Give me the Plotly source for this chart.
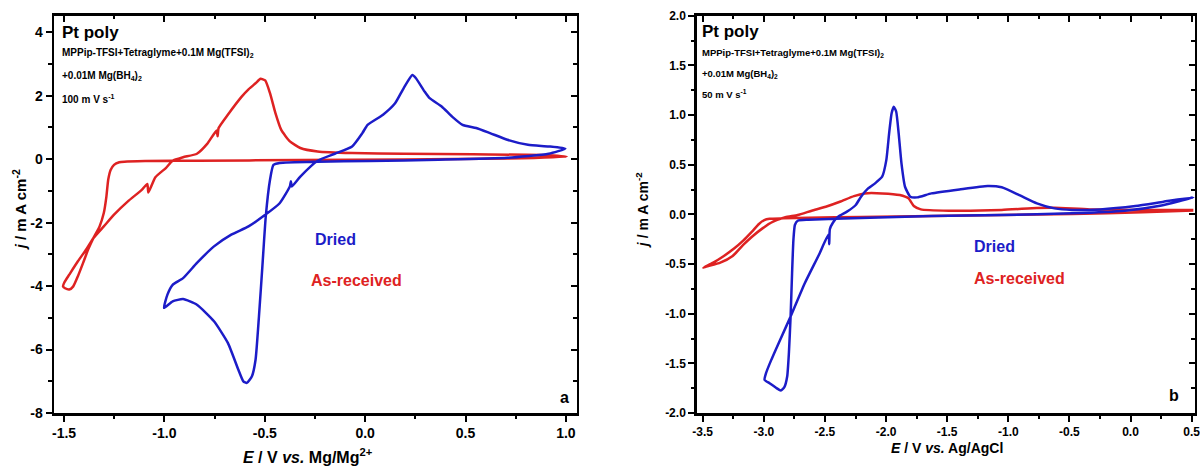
import plotly.graph_objects as go

# ---------------- Panel a (E vs Mg/Mg2+) ----------------
a_dried_E = [0.997, 0.914, 0.708, 0.364, 0.021, -0.237, -0.426, -0.457, -0.474, -0.495, -0.512, -0.529,
             -0.546, -0.564, -0.589, -0.607, -0.632, -0.684, -0.753, -0.838, -0.907, -0.959, -1.002,
             -0.985, -0.959, -0.907, -0.838, -0.753, -0.667, -0.581, -0.503, -0.426, -0.375, -0.370,
             -0.365, -0.323, -0.237, -0.151, -0.065, -0.014, 0.012, 0.089, 0.149, 0.192, 0.235, 0.253,
             0.296, 0.321, 0.381, 0.433, 0.485, 0.553, 0.622, 0.708, 0.811, 0.914, 0.997]
a_dried_j = [0.33, 0.17, 0.04, -0.02, -0.06, -0.08, -0.12, -0.18, -0.65, -1.80, -3.38, -4.95,
             -6.32, -6.84, -7.05, -7.00, -6.63, -5.79, -5.11, -4.59, -4.41, -4.48, -4.69,
             -4.27, -3.96, -3.75, -3.27, -2.75, -2.38, -2.12, -1.78, -1.39, -0.86, -0.70,
             -0.86, -0.55, -0.05, 0.17, 0.40, 0.82, 1.08, 1.40, 1.76, 2.24, 2.65, 2.55,
             2.13, 1.92, 1.66, 1.34, 1.08, 0.98, 0.82, 0.61, 0.45, 0.40, 0.33]

a_asrec_E = [1.003, 0.708, 0.192, -0.323, -0.838, -1.096, -1.199, -1.225, -1.251, -1.268, -1.280, -1.289,
             -1.302, -1.323, -1.354, -1.380, -1.405, -1.431, -1.454, -1.474, -1.495, -1.505,
             -1.498, -1.474, -1.431, -1.388, -1.354, -1.302, -1.251, -1.182, -1.113, -1.085, -1.080,
             -1.045, -0.993, -0.959, -0.907, -0.838, -0.787, -0.740, -0.735, -0.730, -0.684, -0.615,
             -0.581, -0.546, -0.521, -0.498, -0.474, -0.447, -0.418, -0.375, -0.323, -0.237, -0.065,
             0.192, 0.536, 0.880, 1.003]
a_asrec_j = [0.08, 0.02, -0.01, -0.03, -0.05, -0.06, -0.08, -0.10, -0.18, -0.34, -0.65, -1.18,
             -1.70, -2.12, -2.49, -2.85, -3.27, -3.69, -4.01, -4.11, -4.07, -4.01,
             -3.88, -3.64, -3.22, -2.83, -2.49, -2.12, -1.75, -1.33, -0.97, -0.78, -1.05,
             -0.57, -0.28, -0.05, 0.06, 0.17, 0.48, 0.90, 0.72, 0.98, 1.40, 1.97,
             2.20, 2.39, 2.53, 2.48, 2.08, 1.45, 0.92, 0.56, 0.35, 0.24, 0.19,
             0.17, 0.15, 0.13, 0.08]

# ---------------- Panel b (E vs Ag/AgCl) ----------------
b_dried_E = [0.514, 0.241, -0.047, -0.478, -1.054, -1.629, -2.205, -2.637, -2.723, -2.746, -2.758, -2.769,
             -2.781, -2.795, -2.809, -2.832, -2.861, -2.896, -2.953, -2.994,
             -2.982, -2.939, -2.867, -2.781, -2.665, -2.550, -2.470, -2.465, -2.460, -2.435, -2.392,
             -2.320, -2.248, -2.205, -2.147, -2.090, -2.032, -1.998, -1.975, -1.955, -1.937, -1.917,
             -1.897, -1.874, -1.845, -1.802, -1.745, -1.629, -1.399, -1.169, -1.054, -0.910, -0.766,
             -0.622, -0.478, -0.248, 0.040, 0.270, 0.514]
b_dried_j = [0.171, 0.087, 0.037, 0.010, -0.007, -0.017, -0.037, -0.054, -0.064, -0.107, -0.258, -0.593,
             -1.029, -1.398, -1.633, -1.740, -1.773, -1.750, -1.700, -1.666,
             -1.599, -1.465, -1.264, -1.029, -0.694, -0.409, -0.200, -0.300, -0.150, -0.084, -0.023,
             0.027, 0.094, 0.178, 0.261, 0.312, 0.379, 0.546, 0.815, 1.016, 1.083, 1.033,
             0.815, 0.513, 0.278, 0.178, 0.171, 0.211, 0.251, 0.285, 0.272, 0.194, 0.111,
             0.060, 0.044, 0.050, 0.084, 0.127, 0.171]

b_asrec_E = [0.514, 0.097, -0.478, -1.054, -1.629, -2.205, -2.637, -2.838, -2.953, -2.996, -3.040, -3.097,
             -3.169, -3.241, -3.327, -3.414, -3.494,
             -3.471, -3.356, -3.255, -3.169, -3.097, -3.011, -2.924, -2.824, -2.723, -2.608, -2.493,
             -2.378, -2.263, -2.176, -2.032, -1.888, -1.817, -1.773, -1.716, -1.486, -1.054, -0.766,
             -0.622, -0.335, 0.097, 0.514]
b_asrec_j = [0.040, 0.020, 0.003, -0.007, -0.017, -0.027, -0.034, -0.040, -0.044, -0.057, -0.097, -0.174,
             -0.265, -0.342, -0.419, -0.486, -0.536,
             -0.526, -0.486, -0.419, -0.308, -0.225, -0.141, -0.074, -0.030, -0.007, 0.037, 0.077,
             0.127, 0.184, 0.211, 0.211, 0.194, 0.161, 0.084, 0.050, 0.037, 0.044, 0.064,
             0.067, 0.050, 0.044, 0.044]

# tick values / labels (hyphen-minus as in the original)
a_xticks = [-1.5, -1.0, -0.5, 0.0, 0.5, 1.0]
a_xlabels = ["-1.5", "-1.0", "-0.5", "0.0", "0.5", "1.0"]
a_yticks = [-8, -6, -4, -2, 0, 2, 4]
a_ylabels = ["-8", "-6", "-4", "-2", "0", "2", "4"]
b_xticks = [-3.5, -3.0, -2.5, -2.0, -1.5, -1.0, -0.5, 0.0, 0.5]
b_xlabels = ["-3.5", "-3.0", "-2.5", "-2.0", "-1.5", "-1.0", "-0.5", "0.0", "0.5"]
b_yticks = [-2.0, -1.5, -1.0, -0.5, 0.0, 0.5, 1.0, 1.5, 2.0]
b_ylabels = ["-2.0", "-1.5", "-1.0", "-0.5", "0.0", "0.5", "1.0", "1.5", "2.0"]

BLUE = "rgb(28,28,200)"
RED = "rgb(222,34,34)"
FONT = "Liberation Sans, Arial, sans-serif"

fig = go.Figure()

def cv(x, y, color, xa, ya, name, width=2.5):
    fig.add_trace(go.Scatter(x=x, y=y, mode="lines", name=name, xaxis=xa, yaxis=ya,
                             line=dict(color=color, width=width, shape="spline", smoothing=0.5),
                             showlegend=False, hoverinfo="skip"))

cv(a_asrec_E, a_asrec_j, RED, "x", "y", "As-received")
cv(a_dried_E, a_dried_j, BLUE, "x", "y", "Dried")
cv(b_asrec_E, b_asrec_j, RED, "x2", "y2", "As-received")
cv(b_dried_E, b_dried_j, BLUE, "x2", "y2", "Dried")
# transparent copies so the mirrored (top/right) axes get drawn
cv(a_dried_E, a_dried_j, "rgba(0,0,0,0)", "x3", "y3", "mirror a", 0.1)
cv(b_dried_E, b_dried_j, "rgba(0,0,0,0)", "x4", "y4", "mirror b", 0.1)

dom_a = [0.045, 0.4808]
dom_b = [0.5806, 0.9958]
dom_y = [0.1156, 0.9664]
rng_ax = [-1.55, 1.055]
rng_ay = [-8, 4.52]
rng_bx = [-3.549, 0.527]
rng_by = [-2, 2]

def main_axis(domain, rng, tv, tt, minor, anchor, fs):
    return dict(domain=domain, range=rng, tickmode="array", tickvals=tv, ticktext=tt,
                anchor=anchor, automargin=False, ticklabeloverflow="allow",
                showgrid=False, zeroline=False, showline=True, linecolor="black", linewidth=2.5,
                ticks="outside", ticklen=6, tickwidth=2, tickcolor="black",
                minor=dict(dtick=minor, tick0=0, ticks="outside", ticklen=3.5, tickwidth=2,
                           tickcolor="black", showgrid=False),
                tickfont=dict(family=FONT, size=fs, color="black", weight="bold"))

def mirror_axis(domain, rng, tv, minor, anchor, overlay, side):
    return dict(domain=domain, range=rng, tickmode="array", tickvals=tv, anchor=anchor,
                overlaying=overlay, side=side, automargin=False,
                showgrid=False, zeroline=False, showline=True, linecolor="black",
                linewidth=2.5, ticks="inside", ticklen=6, tickwidth=2, tickcolor="black",
                minor=dict(dtick=minor, tick0=0, ticks="inside", ticklen=3.5, tickwidth=2,
                           tickcolor="black", showgrid=False),
                showticklabels=False)

fig.update_layout(
    template="none",
    width=1200, height=467,
    margin=dict(l=0, r=0, t=0, b=0, pad=0),
    paper_bgcolor="white", plot_bgcolor="white",
    font=dict(family=FONT, color="black"),
    xaxis=main_axis(dom_a, rng_ax, a_xticks, a_xlabels, 0.25, "y", 14),
    yaxis=main_axis(dom_y, rng_ay, a_yticks, a_ylabels, 1, "x", 14),
    xaxis2=main_axis(dom_b, rng_bx, b_xticks, b_xlabels, 0.25, "y2", 12),
    yaxis2=main_axis(dom_y, rng_by, b_yticks, b_ylabels, 0.25, "x2", 12),
    xaxis3=mirror_axis(dom_a, rng_ax, a_xticks, 0.25, "y3", "x", "top"),
    yaxis3=mirror_axis(dom_y, rng_ay, a_yticks, 1, "x3", "y", "right"),
    xaxis4=mirror_axis(dom_b, rng_bx, b_xticks, 0.25, "y4", "x2", "top"),
    yaxis4=mirror_axis(dom_y, rng_by, b_yticks, 0.25, "x4", "y2", "right"),
)

ann = []
def txt(x, y, s, size, xref, yref, color="black", xanchor="left", angle=0):
    ann.append(dict(x=x, y=y, text=s, xref=xref, yref=yref, showarrow=False, xanchor=xanchor,
                    yanchor="middle", textangle=angle, borderpad=0,
                    font=dict(family=FONT, size=size, color=color, weight="bold")))

# panel a texts
txt(-1.513, 4.0, "Pt poly", 17, "x", "y")
txt(-1.513, 3.33, "MPPip-TFSI+Tetraglyme+0.1M Mg(TFSI)<sub>2</sub>", 10, "x", "y")
txt(-1.513, 2.62, "+0.01M Mg(BH<sub>4</sub>)<sub>2</sub>", 10, "x", "y")
txt(-1.513, 1.88, "100 m V s<sup>-1</sup>", 10, "x", "y")
txt(-0.254, -2.54, "Dried", 16, "x", "y", BLUE)
txt(-0.277, -3.82, "As-received", 16, "x", "y", RED)
txt(0.992, -7.52, "a", 16, "x", "y", xanchor="center")
# panel b texts
txt(-3.515, 1.837, "Pt poly", 17, "x2", "y2")
txt(-3.515, 1.62, "MPPip-TFSI+Tetraglyme+0.1M Mg(TFSI)<sub>2</sub>", 9.5, "x2", "y2")
txt(-3.515, 1.41, "+0.01M Mg(BH<sub>4</sub>)<sub>2</sub>", 9.5, "x2", "y2")
txt(-3.515, 1.21, "50 m V s<sup>-1</sup>", 9.5, "x2", "y2")
txt(-1.29, -0.325, "Dried", 16, "x2", "y2", BLUE)
txt(-1.29, -0.644, "As-received", 16, "x2", "y2", RED)
txt(0.352, -1.827, "b", 16, "x2", "y2", xanchor="center")
# axis titles
txt(0.2567, 0.0246, "<i>E</i> / V <i>vs.</i> Mg/Mg<sup>2+</sup>", 16, "paper", "paper", xanchor="center")
txt(0.789, 0.041, "<i>E</i> / V <i>vs.</i> Ag/AgCl", 14, "paper", "paper", xanchor="center")
txt(0.016, 0.55, "<i>j</i> / m A cm<sup>-2</sup>", 15, "paper", "paper", xanchor="center", angle=-90)
txt(0.535, 0.55, "<i>j</i> / m A cm<sup>-2</sup>", 14, "paper", "paper", xanchor="center", angle=-90)

fig.update_layout(annotations=ann)
fig.write_html("out.html", config={"displayModeBar": False, "staticPlot": True},
               post_script="document.body.style.margin='0';document.body.style.overflow='hidden';")
